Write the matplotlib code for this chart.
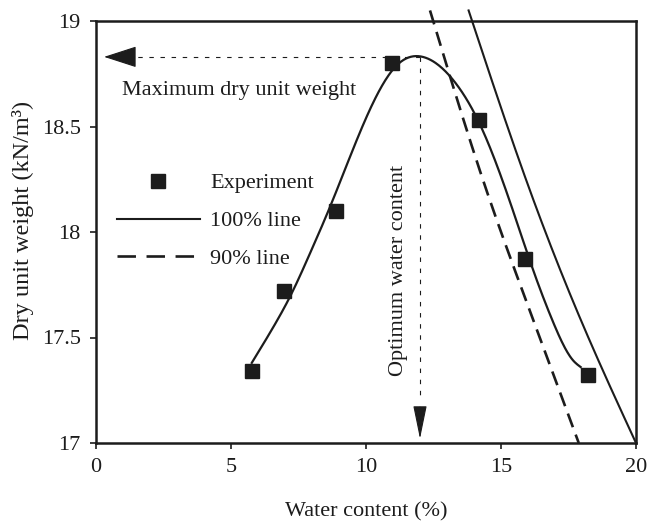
import numpy as np
import matplotlib
matplotlib.use("Agg")
import matplotlib.pyplot as plt
from matplotlib.lines import Line2D

# ---- data ----
exp_w = [5.77, 6.96, 8.89, 10.97, 14.19, 15.89, 18.23]
exp_g = [17.34, 17.72, 18.10, 18.80, 18.53, 17.87, 17.32]

curve_w = [5.77, 6.57, 7.25, 7.93, 8.67, 9.90, 11.14, 12.10,
           13.23, 14.22, 15.50, 16.19, 16.94, 17.68, 17.95]
curve_g = [17.38, 17.55, 17.71, 17.90, 18.12, 18.51, 18.79, 18.83,
           18.72, 18.51, 18.08, 17.82, 17.57, 17.39, 17.36]

line100_w = [13.80, 15.95, 18.00, 20.00]
line100_g = [19.05, 18.24, 17.57, 17.00]
line90_w = [12.37, 14.35, 16.00, 17.88]
line90_g = [19.05, 18.24, 17.65, 17.00]

opt_w = 12.0
max_g = 18.83

xticks = [0, 5, 10, 15, 20]
yticks = [17, 17.5, 18, 18.5, 19]
ytick_labels = ["17", "17.5", "18", "18.5", "19"]

INK = "#1c1c1c"
plt.rcParams['font.family'] = ['Liberation Serif', 'DejaVu Serif']


def natural_spline(xs, ys, n=400):
    x = np.asarray(xs, float)
    y = np.asarray(ys, float)
    m = len(x)
    h = np.diff(x)
    A = np.zeros((m, m))
    b = np.zeros(m)
    A[0, 0] = A[-1, -1] = 1.0
    for i in range(1, m - 1):
        A[i, i - 1] = h[i - 1]
        A[i, i] = 2 * (h[i - 1] + h[i])
        A[i, i + 1] = h[i]
        b[i] = 6 * ((y[i + 1] - y[i]) / h[i] - (y[i] - y[i - 1]) / h[i - 1])
    M = np.linalg.solve(A, b)
    xx = np.linspace(x[0], x[-1], n)
    idx = np.clip(np.searchsorted(x, xx) - 1, 0, m - 2)
    x0, x1 = x[idx], x[idx + 1]
    hh = x1 - x0
    yy = (M[idx] * (x1 - xx) ** 3 / (6 * hh) + M[idx + 1] * (xx - x0) ** 3 / (6 * hh)
          + (y[idx] / hh - M[idx] * hh / 6) * (x1 - xx)
          + (y[idx + 1] / hh - M[idx + 1] * hh / 6) * (xx - x0))
    return xx, yy


fig = plt.figure(figsize=(6.48, 5.23), dpi=100)
ax = fig.add_axes([96 / 648, 1 - 443 / 523, 540 / 648, 422 / 523])

ax.set_xlim(0, 20)
ax.set_ylim(17, 19)

# fitted curve
cx, cy = natural_spline(curve_w, curve_g)
ax.plot(cx, cy, color=INK, lw=1.6, zorder=3)

# saturation lines
lx, ly = natural_spline(line100_w, line100_g, n=200)
ax.plot(lx, ly, color=INK, lw=1.5, clip_on=False, zorder=3)
dx, dy = natural_spline(line90_w, line90_g, n=200)
ax.plot(dx, dy, color=INK, lw=1.9, linestyle=(0, (5.5, 3)),
        clip_on=False, zorder=3)

# experiment points
ax.plot(exp_w, exp_g, linestyle='none', marker='s', markersize=10.5,
        color=INK, zorder=4)

# guide lines with arrows
ax.plot([opt_w, 1.3], [max_g, max_g], color=INK, lw=0.8,
        linestyle=(0, (4, 6)), zorder=2)
ax.annotate("", xy=(0.3, max_g), xytext=(1.4, max_g),
            arrowprops=dict(arrowstyle="-|>,head_length=2.1,head_width=0.68",
                            color=INK, lw=0.8, shrinkA=0, shrinkB=0,
                            mutation_scale=10))
ax.plot([opt_w, opt_w], [max_g, 17.2], color=INK, lw=0.8,
        linestyle=(0, (4, 6)), zorder=2)
ax.annotate("", xy=(opt_w, 17.02), xytext=(opt_w, 17.17),
            arrowprops=dict(arrowstyle="-|>,head_length=2.1,head_width=0.43",
                            color=INK, lw=0.8, shrinkA=0, shrinkB=0,
                            mutation_scale=10))

ax.text(0.95, 18.67, "Maximum dry unit weight", fontsize=16, color=INK,
        ha='left', va='center')
ax.text(11.2, 17.82, "Optimum water content", fontsize=16, color=INK,
        rotation=90, ha='center', va='center')

# legend
handles = [
    Line2D([], [], linestyle='none', marker='s', markersize=10.5, color=INK),
    Line2D([], [], color=INK, lw=1.5),
    Line2D([], [], color=INK, lw=1.9, linestyle=(0, (7, 4))),
]
labels = ["Experiment", "100% line", "90% line"]
ax.legend(handles, labels, loc='upper left', bbox_to_anchor=(0.0385, 0.64),
          frameon=False, fontsize=16, handlelength=3.75, handletextpad=0.45,
          labelspacing=0.78, borderaxespad=0, borderpad=0, labelcolor=INK)

ax.set_xticks(xticks)
ax.set_xticklabels([str(v) for v in xticks])
ax.set_yticks(yticks)
ax.set_yticklabels(ytick_labels)
ax.tick_params(direction='out', length=4, width=1.2, colors=INK,
               labelsize=16, pad=7)
for s in ax.spines.values():
    s.set_linewidth(1.8)
    s.set_color(INK)

ax.set_xlabel("Water content (%)", fontsize=16, color=INK, labelpad=18)
ax.set_ylabel("Dry unit weight (kN/m³)", fontsize=17.5, color=INK)
ax.yaxis.set_label_coords(-0.115, 0.528)

fig.savefig("out.png", dpi=100, facecolor='white')
